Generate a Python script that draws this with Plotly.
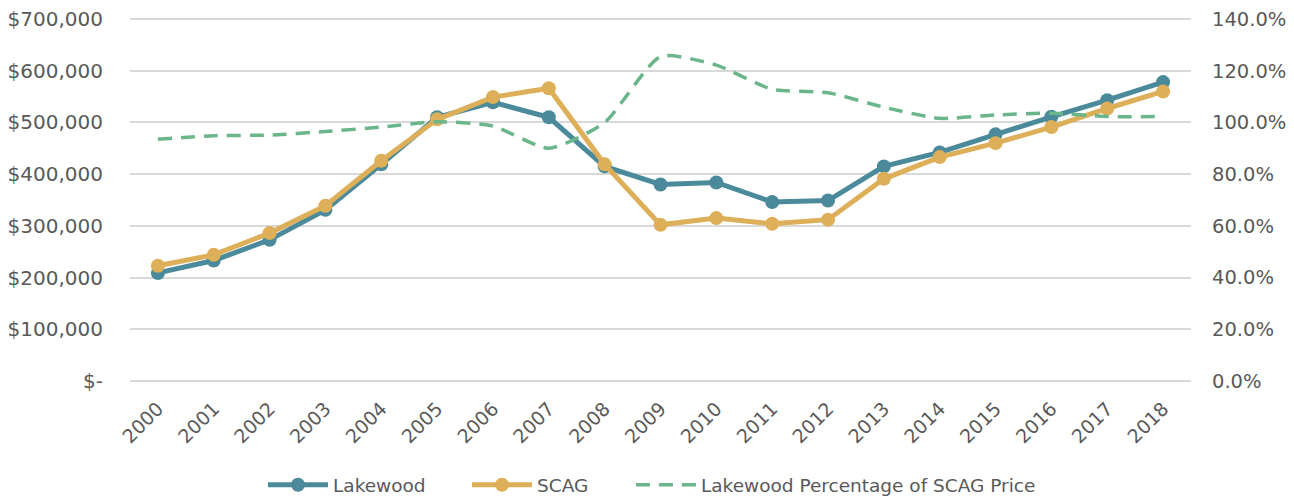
import plotly.graph_objects as go

# DATA
years = [str(y) for y in range(2000, 2019)]
lakewood = [209000, 233000, 273000, 331000, 419000, 510000, 539000, 510000, 415000,
            380000, 384000, 346000, 349000, 415000, 442000, 477000, 511000, 543000, 578000]
scag = [223000, 244000, 286000, 339000, 426000, 506000, 549000, 566000, 419000,
        302000, 315000, 304000, 312000, 391000, 433000, 460000, 491000, 527000, 560000]
pct_of_scag = [0.935, 0.949, 0.951, 0.965, 0.982, 1.003, 0.986, 0.900, 1.000,
               1.255, 1.222, 1.128, 1.115, 1.059, 1.016, 1.029, 1.036, 1.023, 1.023]

left_ticks = [0, 100000, 200000, 300000, 400000, 500000, 600000, 700000]
left_labels = ["$-"] + ["${:,.0f}".format(v) for v in left_ticks[1:]]

# COLOURS
teal = "#4a8a9a"
gold = "#ddaf58"
green = "#6bb58a"
text_col = "#595959"
grid_col = "#d9d9d9"

fig = go.Figure()

fig.add_trace(go.Scatter(
    x=years, y=lakewood, name="Lakewood", mode="lines+markers",
    line=dict(color=teal, width=5), marker=dict(size=14, color=teal),
    legend="legend",
))
fig.add_trace(go.Scatter(
    x=years, y=scag, name="SCAG", mode="lines+markers",
    line=dict(color=gold, width=5), marker=dict(size=14, color=gold),
    legend="legend2",
))
fig.add_trace(go.Scatter(
    x=years, y=pct_of_scag, name="Lakewood Percentage of SCAG Price", mode="lines",
    line=dict(color=green, width=3.5, dash="14px,9px", shape="spline", smoothing=0.6),
    yaxis="y2", legend="legend3",
))

# one legend per series so the gaps between entries match
legend_style = dict(
    orientation="h", xanchor="left", xref="container",
    y=0.03, yanchor="middle", yref="container",
    font=dict(size=18.5, color=text_col), itemwidth=60, bgcolor="rgba(0,0,0,0)",
)

# page body has an 8px margin, so the figure is 8px smaller each way
fig.update_layout(
    width=1286, height=492,
    margin=dict(l=122, r=103, t=10, b=119),
    paper_bgcolor="white", plot_bgcolor="white",
    showlegend=True,
    font=dict(family="DejaVu Sans, sans-serif", size=19, color=text_col),
    xaxis=dict(
        type="category", range=[-0.5, 18.5], tickangle=-45, automargin=False,
        showgrid=False, showline=False, ticks="", ticklabelstandoff=12,
        tickfont=dict(size=19),
    ),
    yaxis=dict(
        range=[0, 702000], tickvals=left_ticks, ticktext=left_labels, automargin=False,
        showgrid=True, gridcolor=grid_col, gridwidth=1.5,
        zeroline=True, zerolinecolor=grid_col, zerolinewidth=1.5,
        ticks="", ticklabelstandoff=26, tickfont=dict(size=20),
        ticklabeloverflow="allow",
    ),
    yaxis2=dict(
        overlaying="y", side="right", range=[0, 1.404], tickformat=".1%", automargin=False,
        tickvals=[0, 0.2, 0.4, 0.6, 0.8, 1.0, 1.2, 1.4],
        showgrid=False, zeroline=False, ticks="", ticklabelstandoff=20,
        tickfont=dict(size=19.5), ticklabeloverflow="allow",
    ),
    legend=dict(legend_style, x=0.1983),
    legend2=dict(legend_style, x=0.3569),
    legend3=dict(legend_style, x=0.4844),
)

fig.write_html("out.html")
